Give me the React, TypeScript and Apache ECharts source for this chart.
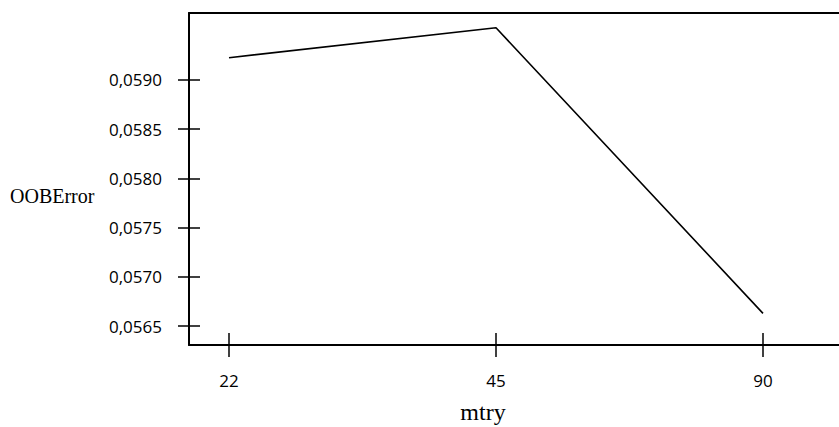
import React, { useEffect, useRef } from "react";
import * as echarts from "echarts";

// Data
const mtry = ["22", "45", "90"];
const oobError = [0.059225, 0.059529, 0.05663];
const yTicks = [0.0565, 0.057, 0.0575, 0.058, 0.0585, 0.059];

// Axis extents (fitted to the reference layout)
const yMin = 0.0563087;
const yMax = 0.0596785;
const xMin = -0.1498;
const xMax = 2.2847;

export default function App() {
  const ref = useRef<HTMLDivElement>(null);

  useEffect(() => {
    const chart = echarts.init(ref.current!, null, { renderer: "svg" });
    const idx = mtry.map((_, i) => i);
    const labelFont = { fontFamily: "Open Sans", fontSize: 17, color: "#000" };
    const tickStyle = { color: "#000", width: 1.5 };
    const axisLineStyle = { color: "#000", width: 2 };

    chart.setOption({
      animation: false,
      grid: {
        left: 189,
        top: 13,
        right: 0,
        height: 332,
        show: false,
        containLabel: false,
      },
      xAxis: [
        {
          type: "value",
          position: "bottom",
          min: xMin,
          max: xMax,
          axisLine: { show: true, onZero: false, lineStyle: axisLineStyle },
          axisTick: { show: true, length: 12, customValues: idx, lineStyle: tickStyle },
          axisLabel: {
            show: true,
            customValues: idx,
            formatter: (v: number) => mtry[Math.round(v)] ?? "",
            margin: 27,
            ...labelFont,
          },
          splitLine: { show: false },
        },
        {
          type: "value",
          position: "bottom",
          min: xMin,
          max: xMax,
          axisLine: { show: false, onZero: false },
          axisTick: { show: true, inside: true, length: 12, customValues: idx, lineStyle: tickStyle },
          axisLabel: { show: false },
          splitLine: { show: false },
        },
        {
          type: "value",
          position: "top",
          min: xMin,
          max: xMax,
          axisLine: { show: true, onZero: false, lineStyle: axisLineStyle },
          axisTick: { show: false },
          axisLabel: { show: false },
          splitLine: { show: false },
        },
      ],
      yAxis: [
        {
          type: "value",
          position: "left",
          min: yMin,
          max: yMax,
          axisLine: { show: true, onZero: false, lineStyle: axisLineStyle },
          axisTick: { show: true, length: 11, customValues: yTicks, lineStyle: tickStyle },
          axisLabel: {
            show: true,
            customValues: yTicks,
            formatter: (v: number) => v.toFixed(4).replace(".", ","),
            margin: 27,
            ...labelFont,
          },
          splitLine: { show: false },
        },
        {
          type: "value",
          position: "left",
          min: yMin,
          max: yMax,
          axisLine: { show: false, onZero: false },
          axisTick: { show: true, inside: true, length: 11, customValues: yTicks, lineStyle: tickStyle },
          axisLabel: { show: false },
          splitLine: { show: false },
        },
      ],
      series: [
        {
          type: "line",
          xAxisIndex: 0,
          yAxisIndex: 0,
          data: oobError.map((v, i) => [i, v]),
          symbol: "none",
          lineStyle: { color: "#000", width: 1.6 },
        },
      ],
      graphic: [
        {
          type: "text",
          left: 10,
          top: 186,
          style: {
            text: "OOBError",
            fontFamily: "Liberation Serif",
            fontSize: 20,
            fill: "#000",
          },
        },
        {
          type: "text",
          x: 483,
          y: 412,
          style: {
            text: "mtry",
            fontFamily: "Liberation Serif",
            fontSize: 24,
            fill: "#000",
            align: "center",
            verticalAlign: "middle",
          },
        },
      ],
    });

    return () => chart.dispose();
  }, []);

  return (
    <div
      ref={ref}
      style={{ position: "fixed", left: 0, top: 0, width: 839, height: 427, background: "#fff" }}
    />
  );
}
